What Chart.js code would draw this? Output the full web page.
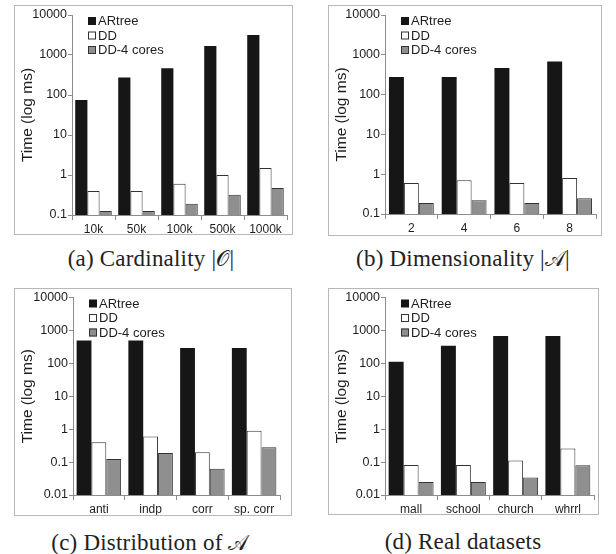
<!DOCTYPE html>
<html>
<head>
<meta charset="utf-8">
<script src="https://cdn.jsdelivr.net/npm/chart.js@4/dist/chart.umd.min.js"></script>
<style>
  html, body { margin: 0; padding: 0; background: #fff; }
  body { width: 616px; height: 554px; position: relative; overflow: hidden; }
  .panel { position: absolute; border: 1px solid #b8b8b8; box-sizing: border-box; }
  .panel canvas { display: block; }
  .caption { position: absolute; width: 300px; text-align: center; line-height: 26px;
    font-family: "Liberation Serif", "DejaVu Serif", serif; font-size: 23px; color: #222;
    white-space: nowrap; letter-spacing: 0.2px; }
  .cal { font-family: "DejaVu Serif", "DejaVu Sans", serif; font-style: normal; font-size: 21px; }
</style>
</head>
<body>
<div class="panel" id="pa" style="left:14px;top:5px;width:279px;height:230px"><canvas id="ca"></canvas></div>
<div class="panel" id="pb" style="left:328px;top:5px;width:274px;height:231px"><canvas id="cb"></canvas></div>
<div class="panel" id="pc" style="left:14px;top:288px;width:278px;height:228px"><canvas id="cc"></canvas></div>
<div class="panel" id="pd" style="left:328px;top:288px;width:271px;height:227px"><canvas id="cd"></canvas></div>

<div class="caption" style="left:1px;top:246px">(a) Cardinality |<span class="cal">𝒪</span>|</div>
<div class="caption" style="left:313px;top:246px">(b) Dimensionality |<span class="cal">𝒜</span>|</div>
<div class="caption" style="left:0px;top:530px">(c) Distribution of <span class="cal">𝒜</span></div>
<div class="caption" style="left:313px;top:529px">(d) Real datasets</div>

<script>
// Series names shared by all four panels
const seriesNames = ['ARtree', 'DD', 'DD-4 cores'];

// (a) Cardinality
const cardLabels = ['10k', '50k', '100k', '500k', '1000k'];
const cardARtree = [75, 275, 465, 1680, 3160];
const cardDD = [0.4, 0.4, 0.6, 1.0, 1.5];
const cardDD4 = [0.125, 0.125, 0.19, 0.32, 0.47];

// (b) Dimensionality
const dimLabels = ['2', '4', '6', '8'];
const dimARtree = [275, 275, 465, 680];
const dimDD = [0.6, 0.7, 0.6, 0.8];
const dimDD4 = [0.19, 0.22, 0.19, 0.25];

// (c) Distribution
const distLabels = ['anti', 'indp', 'corr', 'sp. corr'];
const distARtree = [490, 490, 290, 290];
const distDD = [0.4, 0.6, 0.2, 0.9];
const distDD4 = [0.125, 0.19, 0.063, 0.28];

// (d) Real datasets
const realLabels = ['mall', 'school', 'church', 'whrrl'];
const realARtree = [112, 345, 680, 680];
const realDD = [0.081, 0.081, 0.112, 0.26];
const realDD4 = [0.025, 0.025, 0.034, 0.08];

// Y tick values
const ticksFrom01 = [0.1, 1, 10, 100, 1000, 10000];
const ticksFrom001 = [0.01, 0.1, 1, 10, 100, 1000, 10000];

const AXIS = '#8c8c8c';
const TEXT = '#1e1e1e';
const SANS = '"Liberation Sans", Arial, sans-serif';

// Legend drawn inside the plot area, top-left
const insideLegend = {
  id: 'insideLegend',
  afterDraw(chart, args, opts) {
    const ctx = chart.ctx;
    const { left, top } = chart.chartArea;
    ctx.save();
    ctx.font = '13px ' + SANS;
    ctx.textBaseline = 'middle';
    chart.data.datasets.forEach((ds, i) => {
      const x = left + opts.dx;
      const y = top + opts.dy + i * opts.gap;
      ctx.fillStyle = ds.backgroundColor;
      ctx.fillRect(x, y - 4, 8, 8);
      if (i > 0) {
        ctx.strokeStyle = '#333';
        ctx.lineWidth = 1;
        ctx.strokeRect(x + 0.5, y - 3.5, 7, 7);
      }
      ctx.fillStyle = TEXT;
      ctx.fillText(ds.label, x + 10, y + 0.5);
    });
    ctx.restore();
  }
};

function makeChart(id, w, h, dims, labels, a, b, c, tickVals, catPct) {
  const canvas = document.getElementById(id);
  canvas.width = w - 2;
  canvas.height = h - 2;
  return new Chart(canvas, {
    type: 'bar',
    data: {
      labels: labels,
      datasets: [
        { label: seriesNames[0], data: a, backgroundColor: '#161616', borderColor: '#161616', borderWidth: 0 },
        { label: seriesNames[1], data: b, backgroundColor: '#ffffff', borderColor: '#333333', borderWidth: 1 },
        { label: seriesNames[2], data: c, backgroundColor: '#8f8f8f', borderColor: '#333333', borderWidth: 1 }
      ]
    },
    options: {
      responsive: false,
      animation: false,
      devicePixelRatio: 1,
      categoryPercentage: catPct,
      barPercentage: 1,
      layout: { padding: { left: 0, top: dims.top, right: dims.right, bottom: 0 } },
      plugins: {
        legend: { display: false },
        tooltip: { enabled: false },
        insideLegend: { dx: 16, dy: 6, gap: 14.5 }
      },
      scales: {
        x: {
          offset: true,
          grid: { display: true, offset: true, drawOnChartArea: false, drawTicks: true, tickLength: 5, color: AXIS },
          border: { display: true, color: AXIS },
          ticks: { color: TEXT, font: { family: SANS, size: 12 }, padding: 2, maxRotation: 0 },
          afterFit(scale) { scale.height = dims.bottom; }
        },
        y: {
          type: 'logarithmic',
          min: tickVals[0],
          max: tickVals[tickVals.length - 1],
          afterBuildTicks(scale) { scale.ticks = tickVals.map(v => ({ value: v })); },
          grid: { display: true, drawOnChartArea: false, drawTicks: true, tickLength: 4, color: AXIS },
          border: { display: true, color: AXIS },
          ticks: { color: TEXT, font: { family: SANS, size: 12.5 }, padding: 1,
                   callback: v => String(v) },
          title: { display: true, text: 'Time (log ms)', color: TEXT,
                   font: { family: SANS, size: 15.5 }, padding: { top: 3, bottom: 0 } },
          afterFit(scale) { scale.width = dims.axis; }
        }
      }
    },
    plugins: [insideLegend]
  });
}

makeChart('ca', 279, 230, { axis: 57, top: 9, right: 5, bottom: 19 }, cardLabels, cardARtree, cardDD, cardDD4, ticksFrom01, 0.85);
makeChart('cb', 274, 231, { axis: 56, top: 9, right: 5, bottom: 21 }, dimLabels, dimARtree, dimDD, dimDD4, ticksFrom01, 0.85);
makeChart('cc', 278, 228, { axis: 58, top: 8, right: 11, bottom: 20 }, distLabels, distARtree, distDD, distDD4, ticksFrom001, 0.86);
makeChart('cd', 271, 227, { axis: 56, top: 8, right: 4, bottom: 19 }, realLabels, realARtree, realDD, realDD4, ticksFrom001, 0.86);
</script>
</body>
</html>
